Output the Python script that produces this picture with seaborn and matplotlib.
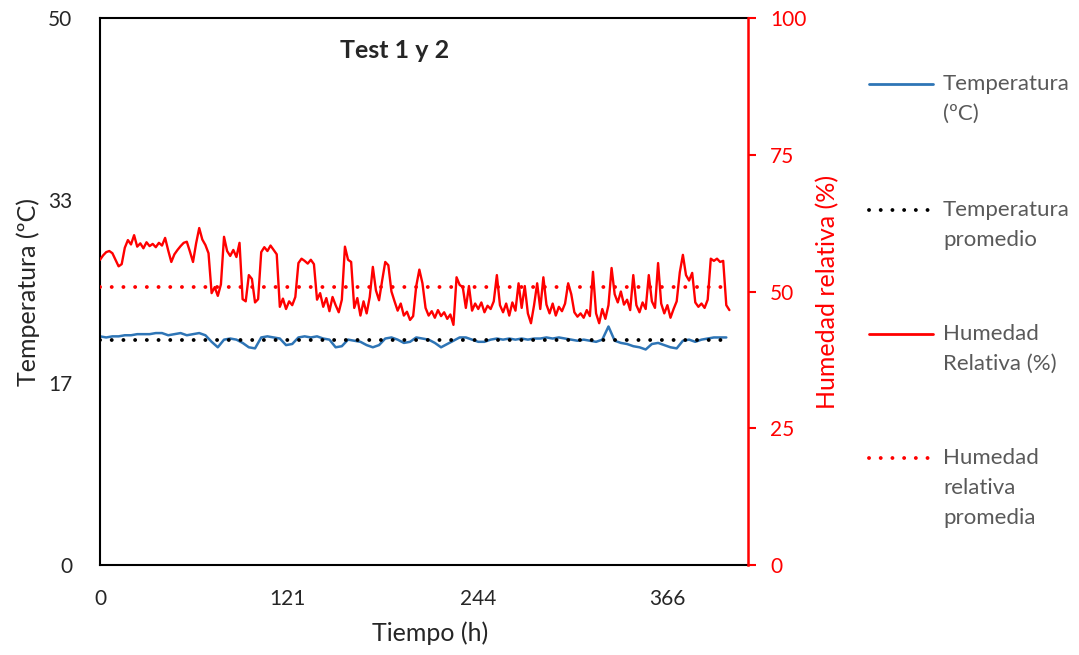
import numpy as np
import pandas as pd
import matplotlib
matplotlib.use("Agg")
import matplotlib.pyplot as plt
import seaborn as sns
from matplotlib.lines import Line2D

# =========================================================
# Data
# =========================================================
hours_rh = np.arange(0, 408, 2)
rh = [
    55.8, 56.6, 57.2, 57.4, 57.0, 55.8, 54.6, 55.0, 58.0, 59.4,
    58.6, 60.3, 58.2, 58.8, 57.9, 59.0, 58.3, 58.7, 58.1, 58.9,
    58.4, 59.8, 57.5, 55.4, 56.8, 57.6, 58.3, 58.9, 59.1, 57.3,
    55.4, 58.8, 61.6, 59.5, 58.5, 57.0, 49.7, 50.8, 49.2, 51.3,
    60.0, 57.4, 56.5, 57.6, 56.3, 58.9, 48.6, 48.2, 53.0, 52.3,
    48.0, 48.6, 57.2, 58.1, 57.4, 58.4, 57.6, 56.8, 47.2, 48.7,
    46.8, 48.2, 47.5, 49.0, 55.2, 56.0, 55.6, 55.1, 55.8, 55.0,
    48.5, 49.7, 47.2, 48.8, 46.4, 49.0, 47.5, 46.2, 48.5, 58.2,
    55.8, 55.4, 47.0, 48.8, 45.6, 48.2, 46.0, 49.0, 54.5, 50.2,
    48.4, 52.0, 55.4, 54.8, 50.0, 48.2, 46.5, 47.8, 45.6, 46.3,
    44.8, 45.5, 51.0, 54.0, 51.5, 47.0, 45.6, 46.4, 45.2, 46.6,
    45.5, 46.2, 45.0, 45.8, 43.9, 52.6, 51.2, 50.8, 47.0, 51.0,
    46.5, 47.8, 46.8, 48.0, 46.2, 47.4, 46.8, 48.2, 53.0, 47.5,
    46.2, 47.8, 45.6, 48.0, 46.5, 51.5, 47.0, 51.0, 46.0, 44.2,
    47.5, 51.5, 46.8, 52.6, 47.6, 46.0, 47.8, 45.6, 47.2, 46.4,
    47.8, 51.5, 49.5, 46.2, 45.4, 46.0, 45.2, 46.6, 45.5, 53.6,
    46.0, 44.2, 46.8, 45.0, 47.5, 54.3, 49.5, 48.0, 50.0, 47.6,
    48.5, 46.6, 53.0, 47.5, 46.2, 48.0, 46.8, 53.0, 48.2, 47.0,
    55.2, 47.8, 46.0, 47.5, 45.2, 46.8, 48.2, 53.5, 56.7, 53.0,
    52.0, 53.4, 48.0, 47.2, 47.8, 47.0, 48.5, 56.0, 55.6, 56.0,
    55.4, 55.6, 47.5, 46.6,
]

hours_temp = np.arange(0, 408, 4)
temp = [
    20.9, 20.8, 20.9, 20.9, 21.0, 21.0, 21.1, 21.1, 21.1, 21.2,
    21.2, 21.0, 21.1, 21.2, 21.0, 21.1, 21.2, 21.0, 20.4, 19.9,
    20.6, 20.7, 20.6, 20.3, 19.9, 19.8, 20.8, 20.9, 20.8, 20.7,
    20.1, 20.2, 20.8, 20.9, 20.8, 20.9, 20.7, 20.6, 19.9, 20.0,
    20.6, 20.5, 20.4, 20.1, 19.9, 20.1, 20.7, 20.8, 20.6, 20.3,
    20.4, 20.8, 20.7, 20.6, 20.3, 19.9, 20.2, 20.5, 20.8, 20.8,
    20.6, 20.4, 20.4, 20.6, 20.7, 20.6, 20.7, 20.6, 20.7, 20.6,
    20.7, 20.7, 20.8, 20.7, 20.8, 20.7, 20.6, 20.5, 20.6, 20.5,
    20.4, 20.6, 21.8, 20.5, 20.3, 20.2, 20.0, 19.9, 19.7, 20.2,
    20.3, 20.1, 19.9, 19.8, 20.5, 20.6, 20.4, 20.6, 20.7, 20.8,
    20.8, 20.8,
]

temp_mean = 20.6
rh_mean = 50.8

x_ticks = [0, 121, 244, 366]
temp_ticks = [0, 50 / 3, 100 / 3, 50]
temp_tick_labels = ["0", "17", "33", "50"]
rh_ticks = [0, 25, 50, 75, 100]

legend_labels = [
    ["Temperatura", "(ºC)"],
    ["Temperatura", "promedio"],
    ["Humedad", "Relativa (%)"],
    ["Humedad", "relativa", "promedia"],
]

df_rh = pd.DataFrame({"hours": hours_rh, "rh": rh})
df_rh["rh_mean"] = rh_mean
df_temp = pd.DataFrame({"hours": hours_temp, "temp": temp})
df_temp["temp_mean"] = temp_mean

# =========================================================
# Style
# =========================================================
sns.set_style("white")
plt.rcParams["font.family"] = ["Lato", "DejaVu Sans"]

BLUE = "#2E75B6"
RED = "#FF0000"
GREY = "#595959"
FS_TICK = 15
FS_LABEL = 18
FS_LEG = 16
dot_style = (0, (0.01, 3.0))

fig = plt.figure(figsize=(10.79, 6.55), dpi=100)
ax = fig.add_axes([100 / 1079, 90 / 655, 648 / 1079, 547 / 655])
ax2 = ax.twinx()

# temperature on the left axis
sns.lineplot(data=df_temp, x="hours", y="temp", ax=ax, color=BLUE,
             linewidth=1.8, legend=False)
sns.lineplot(data=df_temp, x="hours", y="temp_mean", ax=ax, color="black",
             linewidth=2.8, linestyle=dot_style, dash_capstyle="round",
             legend=False)

# humidity on the right axis
sns.lineplot(data=df_rh, x="hours", y="rh", ax=ax2, color=RED,
             linewidth=1.7, legend=False)
sns.lineplot(data=df_rh, x="hours", y="rh_mean", ax=ax2, color=RED,
             linewidth=2.8, linestyle=dot_style, dash_capstyle="round",
             legend=False)

ax.set_xlim(0, 418)
ax.set_ylim(0, 50)
ax2.set_ylim(0, 100)

ax.set_xticks(x_ticks)
ax.set_xticklabels([str(t) for t in x_ticks], fontsize=FS_TICK)
ax.set_yticks(temp_ticks)
ax.set_yticklabels(temp_tick_labels, fontsize=FS_TICK)
ax.tick_params(axis="x", length=0, pad=17)
ax.tick_params(axis="y", length=0, pad=20)

ax2.set_yticks(rh_ticks)
ax2.set_yticklabels([str(t) for t in rh_ticks], fontsize=FS_TICK, color=RED)
ax2.tick_params(axis="y", direction="out", length=6, width=1.5,
                colors=RED, pad=10)

ax.set_xlabel("Tiempo (h)", fontsize=FS_LABEL)
ax.set_ylabel("Temperatura (ºC)", fontsize=FS_LABEL)
ax2.set_ylabel("Humedad relativa (%)", fontsize=FS_LABEL, color=RED)
ax.xaxis.set_label_coords(0.509, -0.124)
ax.yaxis.set_label_coords(-0.111, 0.5)
ax2.yaxis.set_label_coords(1.1235, 0.5)
ax.xaxis.label.set_va("center")
ax.yaxis.label.set_va("center")
ax2.yaxis.label.set_va("center")

for side in ["left", "bottom", "top"]:
    ax.spines[side].set_color("black")
    ax.spines[side].set_linewidth(1.5)
    ax2.spines[side].set_visible(False)
ax.spines["right"].set_visible(False)
ax2.spines["right"].set_color(RED)
ax2.spines["right"].set_linewidth(1.8)

ax.text(0.455, 0.94, "Test 1 y 2", transform=ax.transAxes, ha="center",
        va="center", fontsize=18, fontweight="bold")

# =========================================================
# Legend (drawn by hand so the swatch sits on the first text line)
# =========================================================
legend_styles = [
    dict(color=BLUE, linewidth=2.0),
    dict(color="black", linewidth=2.8, linestyle=dot_style, dash_capstyle="round"),
    dict(color=RED, linewidth=2.0),
    dict(color=RED, linewidth=2.8, linestyle=dot_style, dash_capstyle="round"),
]
entry_y = [84, 210, 334, 458]
for lines, style, y0 in zip(legend_labels, legend_styles, entry_y):
    fy = 1 - y0 / 655
    fig.add_artist(Line2D([869 / 1079, 933 / 1079], [fy, fy],
                          transform=fig.transFigure, **style))
    for i, line in enumerate(lines):
        fig.text(943 / 1079, 1 - (y0 + 30 * i) / 655, line, fontsize=FS_LEG,
                 color=GREY, ha="left", va="center")

fig.savefig("out.png", dpi=100)
plt.close(fig)
